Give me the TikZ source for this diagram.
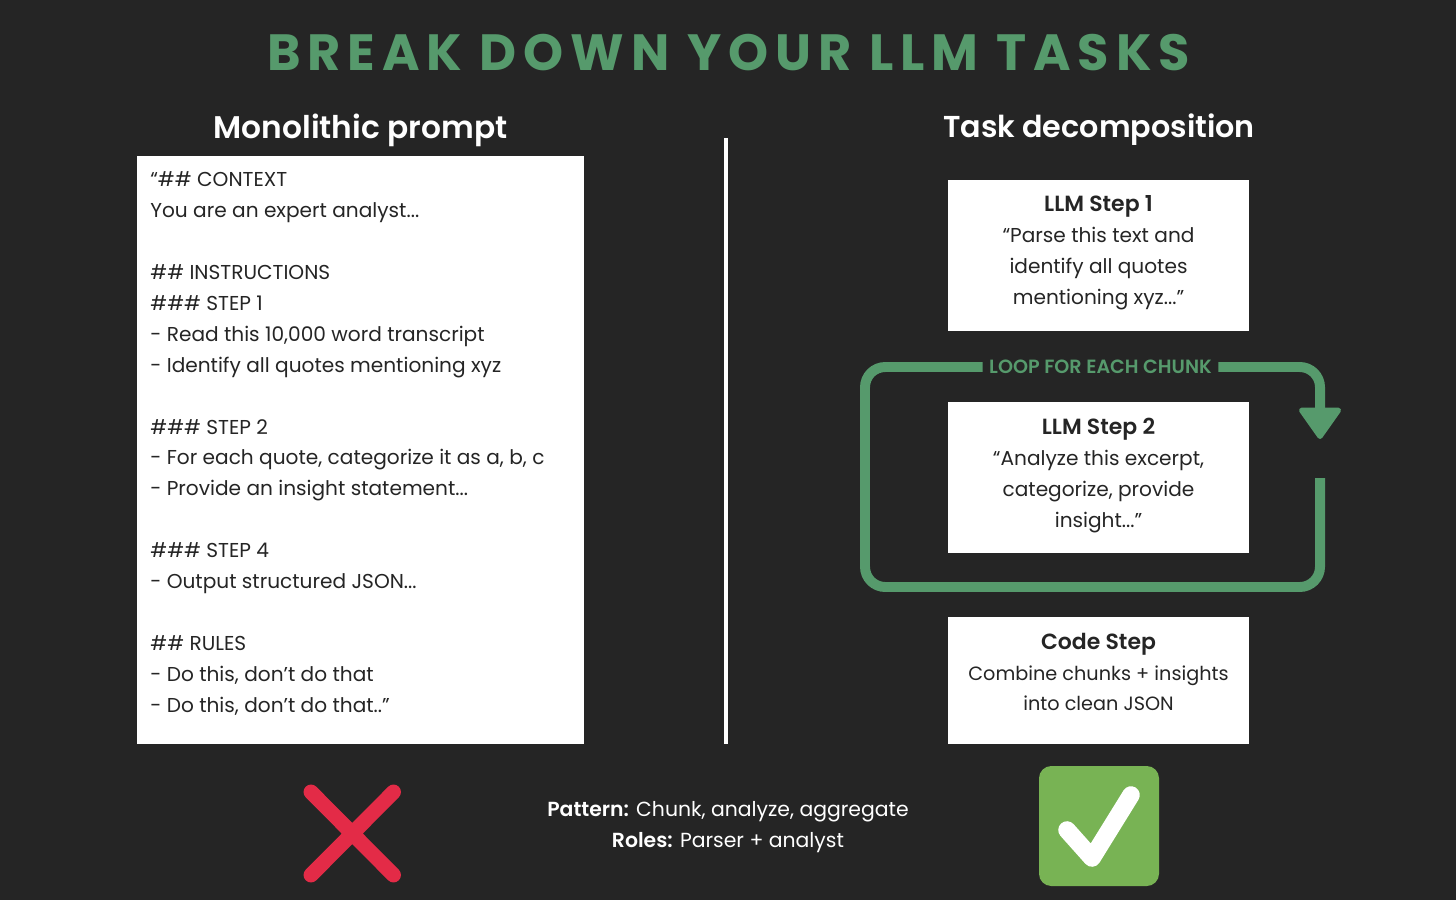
\documentclass[tikz,border=0pt]{standalone}
\usepackage{fontspec}
\setmainfont{Poppins}[BoldFont={Poppins SemiBold}]
\newfontfamily\titlefont[LetterSpace=13.6]{Poppins Bold}
\usetikzlibrary{arrows.meta}
\definecolor{bgdark}{HTML}{252525}
\definecolor{loopgreen}{HTML}{569A6C}
\definecolor{crossred}{HTML}{E32B47}
\definecolor{checkgreen}{HTML}{78B354}
\newcommand{\bodysize}{\fontsize{11.45}{17.6}\selectfont}
\newcommand{\steptitle}[1]{{\fontsize{12.5}{17.6}\selectfont\bfseries #1}}
\tikzstyle{box}=[fill=white,inner sep=0pt]
\tikzstyle{boxtext}=[text=bgdark,inner sep=0pt,align=center,font=\bodysize]
\tikzstyle{head}=[text=white,inner sep=0pt,font=\fontsize{17.8}{21}\selectfont\bfseries]
\tikzstyle{loopline}=[draw=loopgreen,line width=5.67pt,rounded corners=11.5pt]
\begin{document}
\begin{tikzpicture}[x=.02cm,y=-.02cm]
\useasboundingbox[fill=bgdark] (0,0) rectangle (1456,900);
\draw (728.5,53) node (title) [text=loopgreen,inner sep=0pt,font=\fontsize{29}{32}\selectfont\titlefont] {BREAK DOWN YOUR LLM TASKS};
\draw (360.5,130) node (monohead) [head] {Monolithic prompt};
\draw (1099,130) node (taskhead) [head,font=\fontsize{17.2}{21}\selectfont\bfseries] {Task decomposition};
\draw (360.5,450) node (monobox) [box,minimum width=447*.02cm,minimum height=588*.02cm] {};
\draw (150,443.5) node (monotext) [boxtext,anchor=west,align=left] {%
``\#\# CONTEXT\\
You are an expert analyst...\\
\mbox{}\\
\#\# INSTRUCTIONS\\
\#\#\# STEP 1\\
- Read this 10,000 word transcript\\
- Identify all quotes mentioning xyz\\
\mbox{}\\
\#\#\# STEP 2\\
- For each quote, categorize it as a, b, c\\
- Provide an insight statement...\\
\mbox{}\\
\#\#\# STEP 4\\
- Output structured JSON...\\
\mbox{}\\
\#\# RULES\\
- Do this, don’t do that\\
- Do this, don’t do that..”};
\draw[white,line width=2pt] (726,138) coordinate (divtop) -- (726,744) coordinate (divbot);
\draw (1098.5,255.5) node (stepone) [box,minimum width=301*.02cm,minimum height=151*.02cm] {};
\draw (1098.5,252.5) node (steponetext) [boxtext] {\steptitle{LLM Step 1}\\“Parse this text and\\identify all quotes\\mentioning xyz...”};
\draw (1098.5,477.5) node (steptwo) [box,minimum width=301*.02cm,minimum height=151*.02cm] {};
\draw (1098.5,475.5) node (steptwotext) [boxtext] {\steptitle{LLM Step 2}\\“Analyze this excerpt,\\categorize, provide\\insight...”};
\draw (1098.5,680.5) node (codestep) [box,minimum width=301*.02cm,minimum height=127*.02cm] {};
\draw (1098.5,672) node (codesteptext) [boxtext,font=\fontsize{10.95}{17.6}\selectfont] {\steptitle{Code Step}\\Combine chunks + insights\\into clean JSON};
\draw (1100.5,367) node (looplabel) [text=loopgreen,inner sep=0pt,minimum width=235*.02cm,font=\fontsize{10.9}{12}\selectfont\bfseries] {LOOP FOR EACH CHUNK};
\coordinate (loopin) at (1320,478);
\coordinate (looptip) at (1320,439);
\draw[loopline] (loopin) -- (1320,587) -- (865,587) -- (865,367) -- (looplabel.west);
\draw[loopline,-{Triangle[round,width=26pt,length=19pt,line width=3pt]}] (looplabel.east) -- (1320,367) -- (looptip);
\draw[crossred,line width=8.5pt,line cap=round] (311,792) -- (393.5,875) (393.5,792) -- (311,875);
\draw (1099,826) node (checkbox) [fill=checkgreen,rounded corners=7pt,minimum size=120*.02cm,inner sep=0pt] {};
\draw[white,line width=10pt,line cap=round,line join=round] (1067,830) -- (1092,858) -- (1131,795);
\draw (728,827) node (patterntext) [text=white,inner sep=0pt,align=center,font=\fontsize{11.6}{17.6}\selectfont] {\textbf{Pattern:} Chunk, analyze, aggregate\\\textbf{Roles:} Parser + analyst};
\end{tikzpicture}
\end{document}
